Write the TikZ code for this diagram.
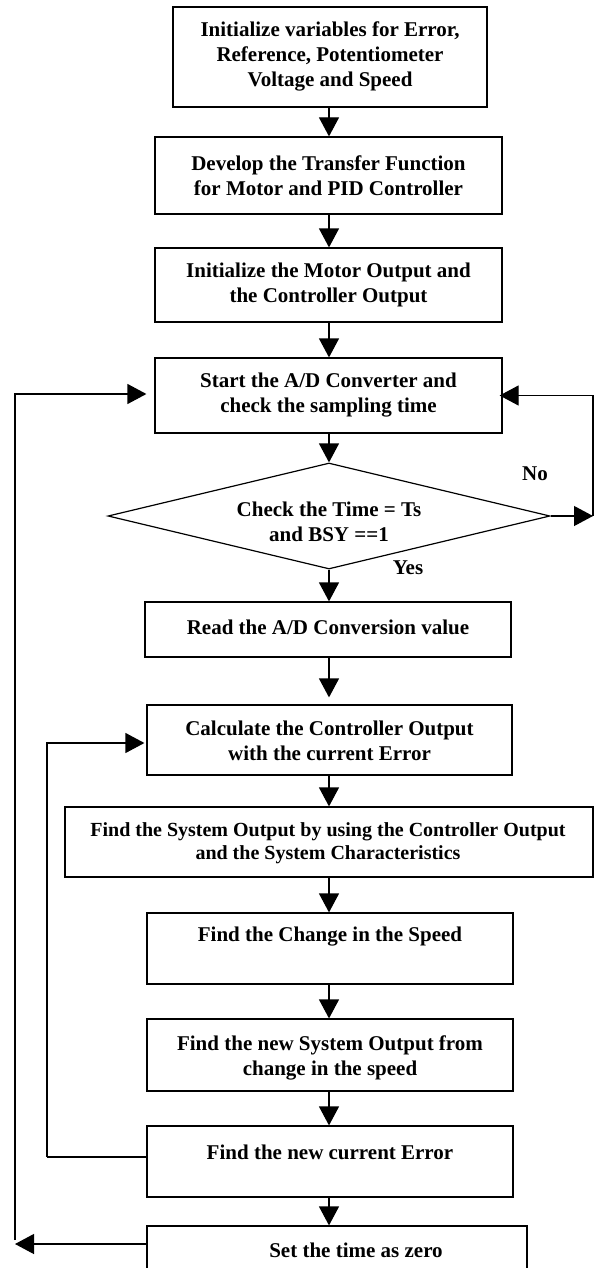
\documentclass[tikz,border=0pt]{standalone}
\usepackage{fontspec}
\setmainfont{Liberation Serif}
\usetikzlibrary{arrows.meta,shapes.geometric}

\begin{document}
\begin{tikzpicture}[x=1pt,y=-1pt,
  box/.style={draw, rectangle, inner sep=0pt, line width=1.2pt},
  dia/.style={draw, diamond, inner sep=0pt, line width=1.2pt},
  txt/.style={align=center, inner sep=0pt, font=\fontsize{21}{25}\selectfont\bfseries},
  smalltxt/.style={align=center, inner sep=0pt, font=\fontsize{20}{23}\selectfont\bfseries},
  arr/.style={-{Triangle[length=19pt,width=20pt]}, line width=1.2pt},
  line/.style={line width=1.2pt}]

\useasboundingbox (0,0) rectangle (603,1268);

% process boxes
\node[box, minimum width=314pt, minimum height=100pt] (b1) at (330,57) {};
\node[box, minimum width=347pt, minimum height=77pt]  (b2) at (328.5,175.5) {};
\node[box, minimum width=347pt, minimum height=74pt]  (b3) at (328.5,285) {};
\node[box, minimum width=347pt, minimum height=75pt]  (b4) at (328.5,395.5) {};
\node[dia, minimum width=442pt, minimum height=106pt] (d)  at (329,516) {};
\node[box, minimum width=366pt, minimum height=55pt]  (b5) at (328,629.5) {};
\node[box, minimum width=365pt, minimum height=70pt]  (b6) at (329.5,740) {};
\node[box, minimum width=528pt, minimum height=70pt]  (b7) at (329,842) {};
\node[box, minimum width=366pt, minimum height=71pt]  (b8) at (330,948.5) {};
\node[box, minimum width=366pt, minimum height=72pt]  (b9) at (330,1055) {};
\node[box, minimum width=366pt, minimum height=71pt]  (b10) at (330,1161.5) {};
\node[box, minimum width=380pt, minimum height=64pt]  (b11) at (337,1258) {};

% box texts
\node[txt] (t1) at (330,56) {Initialize variables for Error,\\Reference, Potentiometer\\Voltage and Speed};
\node[txt] (t2) at (328.5,175.5) {Develop the Transfer Function\\for Motor and PID Controller};
\node[txt] (t3) at (328.5,285) {Initialize the Motor Output and\\the Controller Output};
\node[txt] (t4) at (328.5,395.5) {Start the A/D Converter and\\check the sampling time};
\node[txt] (td) at (329,522) {Check the Time = Ts\\and BSY ==1};
\node[txt] (t5) at (328,627) {Read the A/D Conversion value};
\node[txt] (t6) at (329.5,740.5) {Calculate the Controller Output\\with the current Error};
\node[smalltxt] (t7) at (328,843.5) {Find the System Output by using the Controller Output\\and the System Characteristics};
\node[txt] (t8) at (330,937) {Find the Change in the Speed};
\node[txt] (t9) at (330,1057.5) {Find the new System Output from\\change in the speed};
\node[txt] (t10) at (330,1152) {Find the new current Error};
\node[txt] (t11) at (356,1250) {Set the time as zero};

% branch labels
\node[txt] (yes) at (408,568) {Yes};
\node[txt] (no) at (535,474) {No};

% vertical axis of the main flow
\coordinate (ax) at (329,0);

% main flow
\draw[arr] (ax |- b1.south) -- (ax |- b2.north);
\draw[arr] (ax |- b2.south) -- (ax |- b3.north);
\draw[arr] (ax |- b3.south) -- (ax |- b4.north);
\draw[arr] (ax |- b4.south) -- (d.north);
\draw[arr] (d.south) -- (ax |- b5.north);
\draw[arr, shorten >=7pt] (ax |- b5.south) -- (ax |- b6.north);
\draw[arr] (ax |- b6.south) -- (ax |- b7.north);
\draw[arr] (ax |- b7.south) -- (ax |- b8.north);
\draw[arr] (ax |- b8.south) -- (ax |- b9.north);
\draw[arr] (ax |- b9.south) -- (ax |- b10.north);
\draw[arr] (ax |- b10.south) -- (ax |- b11.north);

% "No" loop back to the A/D converter
\coordinate (nr) at (593,516);
\draw[arr] (d.east) -- (nr);
\draw[arr, shorten >=-3pt] (nr) |- (b4.east);

% inner loop: new error back to controller
\coordinate (il) at (47,1157);
\coordinate (ic) at (0,743);
\draw[line] (b10.west |- il) -- (il);
\draw[arr, shorten >=2pt] (il) |- (b6.west |- ic);

% outer loop: reset time back to the A/D converter
\coordinate (ob) at (15,1244);
\coordinate (ot) at (15,1240);
\coordinate (oc) at (0,394);
\draw[arr] (b11.west |- ob) -- (ob);
\draw[arr, shorten >=8pt] (ot) |- (b4.west |- oc);

\end{tikzpicture}
\end{document}
